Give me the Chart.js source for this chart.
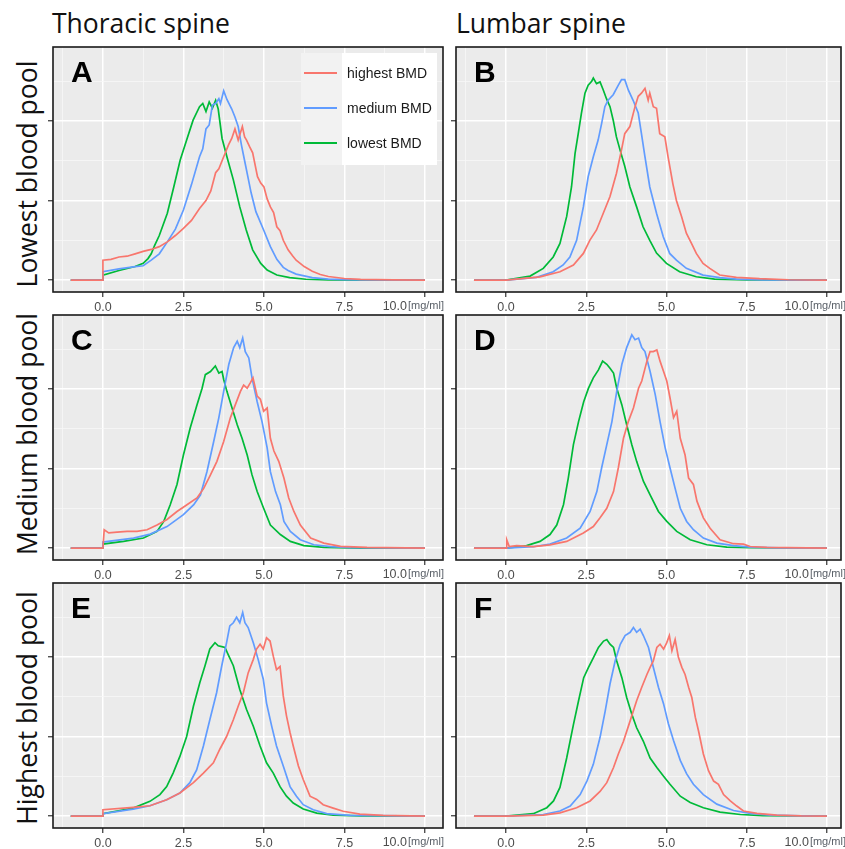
<!DOCTYPE html>
<html><head><meta charset="utf-8">
<script src="https://cdn.jsdelivr.net/npm/chart.js@4"></script>
<style>
html,body{margin:0;padding:0;background:#fff;width:845px;height:849px;overflow:hidden;}
#wrap{position:relative;width:845px;height:849px;}
canvas{position:absolute;}
.title{position:absolute;font-family:"Open Sans",sans-serif;font-size:26.5px;color:#111;white-space:nowrap;line-height:26px;}
.rowlab{position:absolute;font-family:"Open Sans",sans-serif;font-size:26.5px;color:#111;white-space:nowrap;width:300px;text-align:center;line-height:26px;transform:rotate(-90deg);}
.letter{position:absolute;font-family:"Liberation Sans",Arial,sans-serif;font-weight:bold;font-size:30px;color:#000;line-height:30px;}
#legend{position:absolute;left:301px;top:53px;width:136px;height:112px;background:#fff;font-family:"Liberation Sans",Arial,sans-serif;font-size:14px;color:#1a1a1a;}
#legend .keycol{position:absolute;left:0;top:0;width:41px;height:112px;background:#f2f2f2;}
#legend .item{position:absolute;left:0;width:136px;height:20px;}
#legend .ln{position:absolute;left:3px;top:9px;width:33px;height:2px;}
#legend .tx{position:absolute;left:46px;top:1px;line-height:18px;}
</style></head>
<body><div id="wrap"></div>
<script>
// ---------------- data (x in mg/ml, y = density, major gridline = 1 unit) ----------------
const seriesNames = ["highest BMD", "medium BMD", "lowest BMD"];
const seriesColors = ["#F8766D", "#619CFF", "#00BA38"];
const columnTitles = ["Thoracic spine", "Lumbar spine"];
const rowTitles = ["Lowest blood pool", "Medium blood pool", "Highest blood pool"];
const panelLetters = ["A", "B", "C", "D", "E", "F"];
const xTickLabels = ["0.0", "2.5", "5.0", "7.5", "10.0"];
const xUnit = "[mg/ml]";

// Panel A — thoracic, lowest blood pool
const A_high = [[-1,0],[0,0],[0,0.25],[0.25,0.26],[0.5,0.29],[0.75,0.3],[1,0.33],[1.25,0.36],[1.5,0.385],[1.75,0.42],[2,0.48],[2.25,0.56],[2.5,0.65],[2.75,0.75],[3,0.9],[3.2,1],[3.35,1.12],[3.5,1.35],[3.6,1.4],[3.75,1.55],[3.9,1.7],[4,1.78],[4.1,1.9],[4.2,1.76],[4.33,1.93],[4.4,1.8],[4.46,1.76],[4.55,1.68],[4.65,1.6],[4.8,1.3],[4.9,1.22],[5,1.17],[5.1,1.02],[5.2,0.92],[5.3,0.85],[5.4,0.67],[5.5,0.62],[5.6,0.5],[5.75,0.38],[5.9,0.3],[6,0.25],[6.25,0.17],[6.5,0.11],[6.75,0.07],[7,0.045],[7.5,0.02],[8,0.008],[9,0.002],[10,0]];
const A_med = [[-1,0],[0,0],[0,0.105],[0.5,0.14],[1,0.17],[1.25,0.18],[1.5,0.25],[1.75,0.33],[2,0.48],[2.25,0.64],[2.5,0.88],[2.75,1.2],[3,1.55],[3.1,1.65],[3.2,1.9],[3.3,1.95],[3.4,2.2],[3.5,2.22],[3.6,2.28],[3.65,2.22],[3.75,2.38],[3.85,2.27],[4,2.15],[4.1,2.05],[4.2,1.93],[4.3,1.7],[4.4,1.5],[4.5,1.3],[4.6,1.1],[4.75,0.86],[5,0.62],[5.2,0.42],[5.4,0.26],[5.6,0.16],[5.75,0.12],[6,0.075],[6.5,0.03],[7,0.012],[7.5,0.005],[8,0.002],[10,0]];
const A_low = [[-1,0],[0,0],[0,0.063],[0.5,0.12],[1,0.17],[1.25,0.21],[1.4,0.27],[1.5,0.33],[1.6,0.43],[1.75,0.56],[2,0.84],[2.2,1.17],[2.4,1.51],[2.6,1.76],[2.8,2.01],[3,2.18],[3.1,2.22],[3.2,2.12],[3.3,2.24],[3.4,2.16],[3.5,2.26],[3.58,2.15],[3.7,1.78],[3.85,1.55],[4.05,1.26],[4.25,0.92],[4.45,0.63],[4.65,0.38],[4.9,0.21],[5.1,0.126],[5.4,0.063],[5.8,0.03],[6.3,0.01],[7,0.003],[8,0],[10,0]];

// Panel B — lumbar, lowest blood pool
const B_high = [[-1,0],[0,0],[1.06,0.04],[1.68,0.105],[2.1,0.19],[2.41,0.335],[2.61,0.5],[2.82,0.63],[3.03,0.84],[3.24,1.05],[3.44,1.34],[3.6,1.64],[3.7,1.84],[3.86,1.93],[4.02,2.18],[4.12,2.31],[4.22,2.35],[4.33,2.41],[4.43,2.26],[4.48,2.35],[4.59,2.18],[4.69,2.16],[4.79,1.84],[4.95,1.8],[5.05,1.55],[5.2,1.21],[5.31,1],[5.47,0.8],[5.62,0.59],[5.78,0.46],[5.93,0.335],[6.14,0.21],[6.35,0.147],[6.66,0.063],[7.18,0.034],[7.9,0.017],[8.8,0.004],[10,0]];
const B_med = [[-1,0],[0,0],[0.95,0.034],[1.47,0.105],[1.78,0.19],[1.99,0.29],[2.2,0.5],[2.41,0.92],[2.56,1.3],[2.72,1.55],[2.87,1.76],[2.98,1.97],[3.08,2.18],[3.18,2.26],[3.34,2.33],[3.5,2.45],[3.6,2.52],[3.7,2.52],[3.81,2.39],[3.96,2.26],[4.12,2.1],[4.22,1.84],[4.33,1.55],[4.48,1.17],[4.69,0.84],[4.9,0.545],[5.1,0.335],[5.31,0.25],[5.62,0.147],[6.14,0.063],[6.66,0.03],[7.18,0.013],[8,0.003],[10,0]];
const B_low = [[-1,0],[0,0],[0.75,0.05],[1.16,0.147],[1.47,0.29],[1.68,0.46],[1.89,0.8],[2.04,1.17],[2.15,1.59],[2.25,1.84],[2.35,2.1],[2.46,2.35],[2.56,2.45],[2.67,2.5],[2.72,2.54],[2.82,2.47],[2.93,2.49],[3.03,2.39],[3.13,2.28],[3.24,2.18],[3.34,2.01],[3.44,1.8],[3.55,1.64],[3.7,1.43],[3.86,1.17],[4.07,0.92],[4.27,0.67],[4.48,0.5],[4.69,0.34],[5,0.21],[5.41,0.105],[5.93,0.042],[6.5,0.013],[7.5,0.003],[10,0]];

// Panel C — thoracic, medium blood pool
const C_high = [[-1,0],[0,0],[0.04,0.23],[0.18,0.19],[0.44,0.2],[0.75,0.21],[1.06,0.21],[1.37,0.23],[1.68,0.29],[1.99,0.36],[2.3,0.46],[2.61,0.545],[2.92,0.63],[3.13,0.75],[3.34,0.92],[3.54,1.09],[3.75,1.34],[3.96,1.64],[4.11,1.8],[4.27,1.97],[4.37,2.05],[4.48,2.01],[4.58,2.08],[4.66,2.14],[4.79,1.91],[4.89,1.87],[4.99,1.72],[5.1,1.76],[5.2,1.38],[5.31,1.22],[5.46,1.09],[5.62,0.88],[5.77,0.63],[5.93,0.46],[6.13,0.29],[6.45,0.126],[6.86,0.063],[7.38,0.021],[8.2,0.008],[10,0]];
const C_med = [[-1,0],[0,0],[0,0.075],[0.95,0.126],[1.47,0.176],[1.99,0.27],[2.5,0.42],[2.82,0.545],[3.03,0.67],[3.23,0.96],[3.44,1.34],[3.6,1.64],[3.75,1.97],[3.91,2.31],[4.06,2.52],[4.17,2.6],[4.25,2.52],[4.34,2.64],[4.42,2.47],[4.53,2.39],[4.63,2.14],[4.79,1.84],[4.94,1.59],[5.1,1.26],[5.2,0.96],[5.36,0.71],[5.51,0.545],[5.62,0.335],[5.82,0.21],[6.13,0.105],[6.55,0.042],[7.07,0.017],[7.7,0.004],[10,0]];
const C_low = [[-1,0],[0,0],[0,0.05],[0.64,0.084],[1.26,0.126],[1.68,0.21],[1.89,0.335],[2.09,0.545],[2.3,0.8],[2.5,1.17],[2.71,1.51],[2.92,1.8],[3.08,2.01],[3.18,2.18],[3.34,2.22],[3.49,2.29],[3.6,2.2],[3.7,2.22],[3.75,2.12],[3.85,1.97],[4.01,1.76],[4.17,1.55],[4.32,1.38],[4.48,1.17],[4.63,0.92],[4.79,0.71],[4.99,0.5],[5.2,0.29],[5.51,0.17],[5.82,0.084],[6.24,0.03],[6.87,0.008],[8,0],[10,0]];

// Panel D — lumbar, medium blood pool
const D_high = [[-1,0],[0,0],[0.02,0.105],[0.1,0.02],[0.33,0.03],[0.85,0.017],[1.37,0.04],[1.89,0.084],[2.41,0.19],[2.72,0.27],[2.93,0.38],[3.14,0.5],[3.35,0.71],[3.5,1.01],[3.66,1.38],[3.81,1.59],[3.97,1.76],[4.13,2.01],[4.23,2.1],[4.39,2.35],[4.49,2.47],[4.59,2.47],[4.7,2.49],[4.8,2.35],[4.91,2.22],[5.01,2.1],[5.11,1.89],[5.22,1.64],[5.32,1.72],[5.43,1.38],[5.58,1.17],[5.69,0.88],[5.84,0.8],[5.95,0.59],[6.15,0.38],[6.36,0.25],[6.67,0.105],[7.09,0.055],[7.4,0.05],[7.61,0.02],[8.13,0.008],[10,0]];
const D_med = [[-1,0],[0,0],[0.85,0.017],[1.37,0.05],[1.89,0.126],[2.31,0.25],[2.62,0.46],[2.83,0.71],[2.98,1.01],[3.14,1.3],[3.3,1.59],[3.45,1.97],[3.61,2.31],[3.76,2.52],[3.92,2.68],[4.02,2.62],[4.13,2.64],[4.23,2.52],[4.33,2.47],[4.49,2.22],[4.65,1.93],[4.8,1.59],[4.96,1.26],[5.11,1.01],[5.27,0.75],[5.43,0.5],[5.63,0.335],[5.84,0.23],[6.15,0.126],[6.57,0.063],[7.09,0.03],[7.6,0.013],[8.5,0.003],[10,0]];
const D_low = [[-1,0],[0,0],[0.64,0.03],[1.06,0.084],[1.37,0.17],[1.58,0.29],[1.79,0.545],[1.94,0.88],[2.1,1.3],[2.26,1.59],[2.42,1.84],[2.57,2.01],[2.72,2.14],[2.88,2.24],[3.01,2.35],[3.14,2.31],[3.24,2.26],[3.35,2.2],[3.45,2.01],[3.61,1.8],[3.76,1.55],[3.92,1.3],[4.07,1.09],[4.28,0.84],[4.49,0.67],[4.75,0.46],[5.01,0.335],[5.32,0.21],[5.74,0.105],[6.26,0.042],[6.88,0.013],[7.6,0.004],[10,0]];

// Panel E — thoracic, highest blood pool
const E_high = [[-1,0],[0,0],[0,0.08],[0.94,0.11],[1.46,0.13],[1.98,0.206],[2.39,0.29],[2.81,0.42],[3.12,0.54],[3.43,0.67],[3.63,0.84],[3.84,1],[4.05,1.21],[4.2,1.38],[4.36,1.55],[4.51,1.8],[4.67,1.97],[4.77,2.1],[4.88,2.16],[4.98,2.1],[5.08,2.24],[5.19,2.2],[5.29,2.01],[5.39,1.84],[5.5,1.88],[5.6,1.51],[5.7,1.26],[5.81,1.05],[5.91,0.88],[6.07,0.63],[6.22,0.46],[6.43,0.25],[6.64,0.21],[6.84,0.143],[7.15,0.1],[7.46,0.06],[7.98,0.025],[8.7,0.008],[10,0]];
const E_med = [[-1,0],[0,0],[0,0.03],[0.94,0.088],[1.46,0.13],[1.98,0.206],[2.39,0.29],[2.7,0.42],[2.91,0.58],[3.12,0.88],[3.32,1.21],[3.53,1.55],[3.69,1.89],[3.84,2.18],[3.94,2.39],[4.05,2.43],[4.15,2.5],[4.25,2.43],[4.34,2.56],[4.41,2.43],[4.51,2.37],[4.67,2.18],[4.82,1.97],[4.98,1.72],[5.08,1.42],[5.24,1.13],[5.39,0.88],[5.6,0.63],[5.81,0.37],[6.01,0.25],[6.22,0.143],[6.53,0.08],[6.95,0.03],[7.67,0.008],[10,0]];
const E_low = [[-1,0],[0,0],[0,0.03],[0.94,0.1],[1.46,0.185],[1.77,0.27],[1.98,0.37],[2.18,0.54],[2.39,0.75],[2.6,1],[2.81,1.38],[3.01,1.68],[3.17,1.89],[3.32,2.1],[3.48,2.18],[3.58,2.14],[3.69,2.13],[3.79,2.12],[3.89,2.03],[4.05,1.89],[4.25,1.59],[4.46,1.34],[4.67,1.13],[4.88,0.88],[5.08,0.67],[5.29,0.54],[5.5,0.37],[5.7,0.25],[5.91,0.164],[6.22,0.088],[6.64,0.038],[7.15,0.013],[8,0.002],[10,0]];

// Panel F — lumbar, highest blood pool
const F_high = [[-1,0],[0,0],[1.16,0.013],[1.68,0.04],[2.2,0.105],[2.62,0.19],[2.93,0.31],[3.14,0.42],[3.35,0.61],[3.5,0.78],[3.66,0.94],[3.87,1.2],[4.07,1.45],[4.23,1.62],[4.39,1.78],[4.49,1.87],[4.59,1.95],[4.7,2.12],[4.8,2.16],[4.91,2.1],[5.01,2.18],[5.09,2.27],[5.17,2.08],[5.27,2.22],[5.37,2],[5.48,1.87],[5.58,1.78],[5.69,1.62],[5.79,1.49],[5.9,1.24],[6,1.07],[6.15,0.78],[6.31,0.57],[6.47,0.44],[6.62,0.4],[6.78,0.27],[6.99,0.19],[7.19,0.126],[7.4,0.063],[7.82,0.034],[8.44,0.013],[9.2,0.003],[10,0]];
const F_med = [[-1,0],[0,0],[1.16,0.02],[1.68,0.063],[2,0.126],[2.31,0.27],[2.52,0.44],[2.72,0.65],[2.93,0.99],[3.09,1.32],[3.24,1.66],[3.4,1.95],[3.56,2.16],[3.71,2.27],[3.87,2.31],[3.97,2.37],[4.07,2.31],[4.18,2.35],[4.28,2.27],[4.44,2.12],[4.59,1.87],[4.75,1.62],[4.91,1.41],[5.06,1.16],[5.22,0.95],[5.43,0.7],[5.63,0.53],[5.84,0.4],[6.15,0.27],[6.57,0.15],[7.09,0.07],[7.61,0.034],[8.23,0.013],[9.2,0.002],[10,0]];
const F_low = [[-1,0],[0,0],[0.85,0.03],[1.27,0.105],[1.48,0.19],[1.68,0.36],[1.89,0.73],[2.1,1.15],[2.26,1.45],[2.42,1.74],[2.57,1.87],[2.72,1.99],[2.88,2.12],[3.04,2.2],[3.14,2.22],[3.24,2.16],[3.35,2.12],[3.45,1.95],[3.61,1.74],[3.76,1.49],[3.92,1.28],[4.07,1.11],[4.28,0.94],[4.49,0.73],[4.7,0.61],[4.91,0.5],[5.11,0.4],[5.43,0.25],[5.74,0.17],[6.15,0.105],[6.67,0.05],[7.3,0.02],[8,0.005],[10,0]];

const panelSeries = [
  [A_high, A_med, A_low], [B_high, B_med, B_low],
  [C_high, C_med, C_low], [D_high, D_med, D_low],
  [E_high, E_med, E_low], [F_high, F_med, F_low]
];

// ---------------- layout ----------------
const colGeom = [{left:53, w:390, xMin:-1.55, xMax:10.56}, {left:456, w:385, xMin:-1.56, xMax:10.44}];
const rowTop = [47, 315, 583];
const PLOT_H = 245, Y_MIN = -0.15, Y_MAX = 2.93;
const PADL = 8, PADT = 4, PADR = 8, PADB = 26;
const wrap = document.getElementById('wrap');

function addDiv(cls, text, style) {
  const d = document.createElement('div');
  d.className = cls; d.textContent = text;
  Object.assign(d.style, style); wrap.appendChild(d); return d;
}

addDiv('title', columnTitles[0], {left:'52px', top:'10px'});
addDiv('title', columnTitles[1], {left:'456px', top:'10px'});
const rowCenters = [174, 434, 708];
rowTitles.forEach((t, i) => addDiv('rowlab', t, {left: (27 - 150) + 'px', top: (rowCenters[i] - 13) + 'px'}));

const isMajorX = v => Math.abs(v / 2.5 - Math.round(v / 2.5)) < 1e-6;
const isMajorY = v => Math.abs(v - Math.round(v)) < 1e-6;

const panelPlugin = {
  id: 'panelDeco',
  beforeDraw(chart) {
    const a = chart.chartArea, c = chart.ctx;
    c.save(); c.fillStyle = '#ebebeb'; c.fillRect(a.left, a.top, a.right - a.left, a.bottom - a.top); c.restore();
  },
  afterDraw(chart) {
    const a = chart.chartArea, c = chart.ctx;
    c.save();
    c.strokeStyle = '#1a1a1a'; c.lineWidth = 1.6;
    c.strokeRect(a.left, a.top, a.right - a.left, a.bottom - a.top);
    const xs = chart.scales.x;
    const px = xs.getPixelForValue(10);
    const y = a.bottom + 15;
    c.fillStyle = '#4d4d4d'; c.textBaseline = 'middle';
    c.font = '12.5px "Liberation Sans", Arial, sans-serif';
    c.textAlign = 'right'; c.fillText(xTickLabels[4], px - 18, y);
    c.fillStyle = '#5a6068';
    c.font = '11px "Liberation Sans", Arial, sans-serif';
    c.textAlign = 'left'; c.fillText(xUnit, px - 17, y - 1);
    c.restore();
  }
};

panelSeries.forEach((series, p) => {
  const col = p % 2, row = Math.floor(p / 2);
  const g = colGeom[col];
  const cv = document.createElement('canvas');
  const W = g.w + PADL + PADR, H = PLOT_H + PADT + PADB;
  cv.width = W; cv.height = H;
  cv.style.left = (g.left - PADL) + 'px'; cv.style.top = (rowTop[row] - PADT) + 'px';
  cv.style.width = W + 'px'; cv.style.height = H + 'px';
  wrap.appendChild(cv);
  new Chart(cv.getContext('2d'), {
    type: 'line',
    data: {
      datasets: series.map((s, i) => ({
        label: seriesNames[i],
        data: s.map(([x, y]) => ({x, y})),
        borderColor: seriesColors[i], borderWidth: 1.7,
        pointRadius: 0, tension: 0, fill: false
      }))
    },
    options: {
      responsive: false, animation: false, devicePixelRatio: 1,
      layout: {padding: {top: PADT, right: PADR, left: 0, bottom: 0}},
      plugins: {legend: {display: false}, tooltip: {enabled: false}},
      scales: {
        x: {
          type: 'linear', min: g.xMin, max: g.xMax,
          afterFit: s => { s.height = PADB; },
          border: {display: false},
          grid: {
            color: ctx => isMajorX(ctx.tick.value) ? '#ffffff' : '#f7f7f7',
            lineWidth: ctx => isMajorX(ctx.tick.value) ? 1.5 : 0.8,
            tickLength: 5, tickWidth: 1.2,
            tickColor: ctx => isMajorX(ctx.tick.value) ? '#333333' : 'rgba(0,0,0,0)'
          },
          ticks: {
            stepSize: 1.25, includeBounds: false, autoSkip: false, maxRotation: 0, padding: 3,
            color: '#4d4d4d', font: {family: '"Liberation Sans", Arial, sans-serif', size: 12.5},
            callback: v => {
              if (!isMajorX(v)) return '';
              const k = Math.round(v / 2.5);
              return k >= 0 && k < 4 ? xTickLabels[k] : '';
            }
          }
        },
        y: {
          type: 'linear', min: Y_MIN, max: Y_MAX,
          afterFit: s => { s.width = PADL; },
          border: {display: false},
          grid: {
            color: ctx => isMajorY(ctx.tick.value) ? '#ffffff' : '#f7f7f7',
            lineWidth: ctx => isMajorY(ctx.tick.value) ? 1.5 : 0.8,
            tickLength: 5, tickWidth: 1.2,
            tickColor: ctx => isMajorY(ctx.tick.value) ? '#333333' : 'rgba(0,0,0,0)'
          },
          ticks: {stepSize: 0.5, includeBounds: false, display: false}
        }
      }
    },
    plugins: [panelPlugin]
  });
  addDiv('letter', panelLetters[p], {left: (g.left + 18) + 'px', top: (rowTop[row] + 10) + 'px'});
});

// legend inside panel A
const lg = document.createElement('div'); lg.id = 'legend';
lg.innerHTML = '<div class="keycol"></div>';
seriesNames.forEach((n, i) => {
  const it = document.createElement('div'); it.className = 'item';
  it.style.top = (10 + i * 35) + 'px';
  const ln = document.createElement('div'); ln.className = 'ln'; ln.style.background = seriesColors[i];
  const tx = document.createElement('div'); tx.className = 'tx'; tx.textContent = n;
  it.appendChild(ln); it.appendChild(tx); lg.appendChild(it);
});
wrap.appendChild(lg);
</script></body></html>
